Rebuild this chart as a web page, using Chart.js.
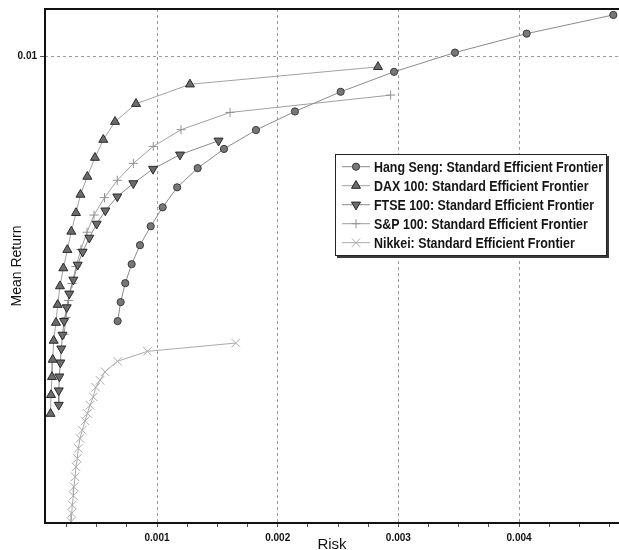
<!DOCTYPE html>
<html>
<head>
<meta charset="utf-8">
<script src="https://cdn.jsdelivr.net/npm/chart.js@4.4.0/dist/chart.umd.min.js"></script>
<style>
html, body { margin: 0; padding: 0; background: #fff; overflow: hidden; }
#wrap { width: 619px; height: 550px; overflow: hidden; position: relative; }
canvas { display: block; }
</style>
</head>
<body>
<div id="wrap"><canvas id="frontier_Chart" width="619" height="562"></canvas></div>
<script>
// efficient frontiers, risk (x) vs mean return (y)
const seriesNames = [
    "Hang Seng: Standard Efficient Frontier",
    "DAX 100: Standard Efficient Frontier",
    "FTSE 100: Standard Efficient Frontier",
    "S&P 100: Standard Efficient Frontier",
    "Nikkei: Standard Efficient Frontier"
];

const hangSengRisk = [0.004781, 0.004063, 0.003469, 0.002964, 0.002522, 0.002143, 0.001820, 0.001555, 0.001337,
    0.001167, 0.001047, 0.000948, 0.000859, 0.000790, 0.000737, 0.000699, 0.000674];
const hangSengReturn = [0.010893, 0.010492, 0.010086, 0.009673, 0.009245, 0.008823, 0.008425, 0.008019, 0.007608,
    0.007197, 0.006769, 0.006362, 0.005956, 0.005549, 0.005142, 0.004736, 0.004329];

const daxRisk = [0.002831, 0.001273, 0.000826, 0.000652, 0.000555, 0.000486, 0.000423, 0.000366, 0.000329, 0.000290,
    0.000257, 0.000224, 0.000196, 0.000177, 0.000163, 0.000144, 0.000136, 0.000130, 0.000122, 0.000118];
const daxReturn = [0.009780, 0.009405, 0.008988, 0.008603, 0.008218, 0.007832, 0.007426, 0.007041, 0.006649, 0.006249,
    0.005857, 0.005463, 0.005078, 0.004680, 0.004295, 0.003910, 0.003503, 0.003131, 0.002746, 0.002343];

const ftseRisk = [0.001510, 0.001191, 0.000967, 0.000804, 0.000671, 0.000572, 0.000500, 0.000439, 0.000384, 0.000343,
    0.000307, 0.000273, 0.000252, 0.000230, 0.000217, 0.000207, 0.000199, 0.000191, 0.000186, 0.000186];
const ftseReturn = [0.008196, 0.007897, 0.007591, 0.007282, 0.006998, 0.006698, 0.006414, 0.006114, 0.005814, 0.005536,
    0.005215, 0.004916, 0.004622, 0.004329, 0.004034, 0.003739, 0.003439, 0.003139, 0.002840, 0.002532];

const spRisk = [0.002936, 0.001605, 0.001199, 0.000969, 0.000804, 0.000671, 0.000565, 0.000478, 0.000420, 0.000370,
    0.000329, 0.000296, 0.000267, 0.000246, 0.000230];
const spReturn = [0.009174, 0.008802, 0.008432, 0.008074, 0.007710, 0.007347, 0.006976, 0.006602, 0.006234, 0.005864,
    0.005500, 0.005136, 0.004772, 0.004408, 0.004045];

const nikkeiRisk = [0.001652, 0.000921, 0.000673, 0.000569, 0.000528, 0.000492, 0.000472, 0.000445, 0.000423, 0.000404,
    0.000381, 0.000362, 0.000348, 0.000340, 0.000329, 0.000321, 0.000312, 0.000307, 0.000298, 0.000293, 0.000288];
const nikkeiReturn = [0.003858, 0.003681, 0.003467, 0.003242, 0.003060, 0.002910, 0.002703, 0.002525, 0.002348, 0.002189,
    0.001990, 0.001813, 0.001599, 0.001385, 0.001205, 0.000991, 0.000777, 0.000584, 0.000385, 0.000208, 0.000028];

const xTickValues = [0.00025, 0.0005, 0.00075, 0.001, 0.00125, 0.0015, 0.00175, 0.002, 0.00225, 0.0025,
    0.00275, 0.003, 0.00325, 0.0035, 0.00375, 0.004, 0.00425, 0.0045, 0.00475];
const xTickLabels = ["0.001", "0.002", "0.003", "0.004"];
const yTickValues = [0.01];
const yTickLabels = ["0.01"];

const fontFamily = "'Liberation Sans', Arial, sans-serif";

function toPoints(xs, ys) {
    let pts = [];
    for (let i = 0; i < xs.length; i++) {
        pts.push({x: xs[i], y: ys[i]});
    }
    return pts;
}

function majorLabel(v) {
    let k = v * 1000;
    if (Math.abs(k - Math.round(k)) < 1e-6) {
        let idx = xTickLabels.indexOf((Math.round(k) / 1000).toFixed(3));
        if (idx >= 0) return xTickLabels[idx];
    }
    return "";
}

const styles = [
    {pointStyle: "circle", radius: 3.6, rotation: 0, fill: "#777777", border: "#3c3c3c", line: "#8a8a8a"},
    {pointStyle: "triangle", radius: 5.2, rotation: 0, fill: "#6c6c6c", border: "#2a2a2a", line: "#a2a2a2"},
    {pointStyle: "triangle", radius: 5.2, rotation: 180, fill: "#6c6c6c", border: "#2a2a2a", line: "#8a8a8a"},
    {pointStyle: "cross", radius: 4.6, rotation: 0, fill: "#999999", border: "#929292", line: "#a0a0a0"},
    {pointStyle: "crossRot", radius: 6, rotation: 0, fill: "#b0b0b0", border: "#ababab", line: "#aaaaaa"}
];

const allRisk = [hangSengRisk, daxRisk, ftseRisk, spRisk, nikkeiRisk];
const allReturn = [hangSengReturn, daxReturn, ftseReturn, spReturn, nikkeiReturn];

let datasets = [];
for (let i = 0; i < seriesNames.length; i++) {
    let s = styles[i];
    datasets.push({
        label: seriesNames[i],
        data: toPoints(allRisk[i], allReturn[i]),
        showLine: true,
        borderColor: s.line,
        borderWidth: 1,
        backgroundColor: s.fill,
        pointStyle: s.pointStyle,
        pointRotation: s.rotation,
        pointRadius: s.radius,
        pointHoverRadius: s.radius,
        pointBackgroundColor: s.fill,
        pointBorderColor: s.border,
        pointBorderWidth: 1,
        tension: 0
    });
}

// left, top and bottom frame of the plot
const framePlugin = {
    id: "frame",
    afterDatasetsDraw(chart) {
        const a = chart.chartArea;
        const ctx = chart.ctx;
        ctx.save();
        ctx.strokeStyle = "#111";
        ctx.lineWidth = 2;
        ctx.beginPath();
        ctx.moveTo(a.right + 2, a.top);
        ctx.lineTo(a.left, a.top);
        ctx.lineTo(a.left, a.bottom);
        ctx.lineTo(a.right + 2, a.bottom);
        ctx.stroke();
        ctx.restore();
    }
};

// boxed legend inside the plot
const legendPlugin = {
    id: "boxLegend",
    afterDraw(chart) {
        const ctx = chart.ctx;
        const bx = 335, by = 154, bw = 272, bh = 102;
        ctx.save();
        ctx.fillStyle = "#3a3a3a";
        ctx.fillRect(bx + 2, by + 2, bw, bh);
        ctx.fillStyle = "#fff";
        ctx.fillRect(bx, by, bw, bh);
        ctx.strokeStyle = "#222";
        ctx.lineWidth = 1;
        ctx.strokeRect(bx + 0.5, by + 0.5, bw - 1, bh - 1);

        ctx.font = "bold 14px " + fontFamily;
        const k = 229 / ctx.measureText(seriesNames[0]).width;
        chart.data.datasets.forEach((ds, i) => {
            const y = 166.7 + i * 19;
            ctx.strokeStyle = ds.borderColor;
            ctx.lineWidth = 1;
            ctx.beginPath();
            ctx.moveTo(342, y);
            ctx.lineTo(370, y);
            ctx.stroke();
            ctx.fillStyle = ds.pointBackgroundColor;
            ctx.strokeStyle = ds.pointBorderColor;
            Chart.helpers.drawPoint(ctx, {
                pointStyle: ds.pointStyle,
                rotation: ds.pointRotation,
                radius: ds.pointRadius,
                borderWidth: 1
            }, 356, y);
            ctx.save();
            ctx.translate(374, y);
            ctx.scale(k, 1);
            ctx.fillStyle = "#151515";
            ctx.textBaseline = "middle";
            ctx.textAlign = "left";
            ctx.fillText(ds.label, 0, 1);
            ctx.restore();
        });
        ctx.restore();
    }
};

const chart = new Chart("frontier_Chart", {
    type: "scatter",
    data: {datasets: datasets},
    options: {
        responsive: false,
        animation: false,
        layout: {autoPadding: false, padding: {top: 8, right: 0, left: 0, bottom: 0}},
        plugins: {
            legend: {display: false},
            tooltip: {enabled: false}
        },
        scales: {
            x: {
                type: "linear",
                min: 0.000072,
                max: 0.004828,
                afterBuildTicks: scale => { scale.ticks = xTickValues.map(v => ({value: v})); },
                afterFit: scale => { scale.height = 39; },
                ticks: {
                    autoSkip: false,
                    maxRotation: 0,
                    padding: 5,
                    color: "#111",
                    font: {family: fontFamily, size: 10, weight: "bold"},
                    callback: v => majorLabel(v)
                },
                grid: {
                    color: ctx => (ctx.tick && majorLabel(ctx.tick.value) !== "") ? "#9c9c9c" : "rgba(0,0,0,0)",
                    tickColor: "#555",
                    tickLength: 4,
                    lineWidth: 1
                },
                border: {display: false, dash: [3, 3]},
                title: {
                    display: true,
                    text: "Risk",
                    color: "#111",
                    font: {family: fontFamily, size: 15},
                    padding: {top: 0, bottom: 8}
                }
            },
            y: {
                type: "linear",
                min: 0,
                max: 0.01102,
                afterBuildTicks: scale => { scale.ticks = yTickValues.map(v => ({value: v})); },
                afterFit: scale => { scale.width = 45; },
                ticks: {
                    padding: 3,
                    color: "#111",
                    font: {family: fontFamily, size: 10, weight: "bold"},
                    callback: (v, i) => yTickLabels[i]
                },
                grid: {
                    color: "#9c9c9c",
                    tickColor: "#555",
                    tickLength: 5,
                    lineWidth: 1
                },
                border: {display: false, dash: [3, 3]},
                title: {
                    display: true,
                    text: "Mean Return",
                    color: "#111",
                    font: {family: fontFamily, size: 14},
                    padding: {top: 9, bottom: 0}
                }
            }
        }
    },
    plugins: [framePlugin, legendPlugin]
});
</script>
</body>
</html>
